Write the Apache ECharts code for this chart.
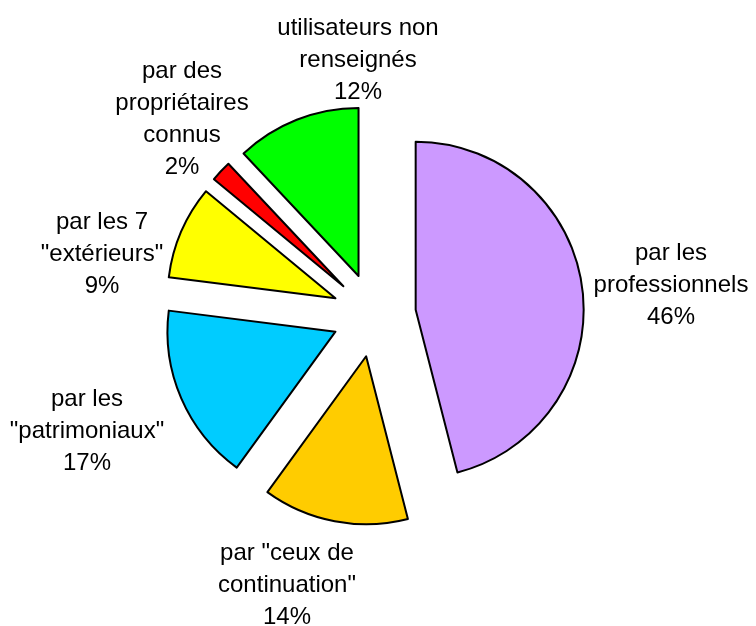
<!DOCTYPE html>
<html>
<head>
<meta charset="utf-8">
<script src="https://cdn.jsdelivr.net/npm/echarts@6/dist/echarts.min.js"></script>
<style>
  html, body { margin: 0; padding: 0; background: #fff; }
  #chart { width: 756px; height: 626px; }
</style>
</head>
<body>
<div id="chart"></div>
<script>
// slices, clockwise from 12 o'clock
var categories = [
  'par les\nprofessionnels',
  'par "ceux de\ncontinuation"',
  'par les\n"patrimoniaux"',
  'par les 7\n"extérieurs"',
  'par des\npropriétaires\nconnus',
  'utilisateurs non\nrenseignés'
];
var shares = [46, 14, 17, 9, 2, 12];
var colors = ['#CC99FF', '#FFCC00', '#00CCFF', '#FFFF00', '#FF0000', '#00FF00'];
// where each label block is centred
var labelPos = [[671, 285], [287, 585], [87, 431], [102, 254], [182, 119], [358, 60]];

var pieCenter = [374, 315];
var pieRadius = 168;

// exploded slices (selected state pushes every slice out)
var sliceData = categories.map(function(name, i) {
  return {
    name: name,
    value: shares[i],
    selected: true,
    itemStyle: { color: colors[i] }
  };
});
// same values, invisible, only carries the labels
var labelData = categories.map(function(name, i) {
  return { name: name, value: shares[i] };
});

var chart = echarts.init(document.getElementById('chart'));
chart.setOption({
  backgroundColor: '#ffffff',
  animation: false,
  series: [{
    type: 'pie',
    center: pieCenter,
    radius: pieRadius,
    startAngle: 90,
    clockwise: true,
    selectedMode: 'multiple',
    selectedOffset: 42,
    data: sliceData,
    itemStyle: { borderColor: '#000', borderWidth: 2 },
    select: { itemStyle: { borderColor: '#000', borderWidth: 2 } },
    emphasis: { disabled: true },
    label: { show: false },
    labelLine: { show: false }
  }, {
    type: 'pie',
    center: pieCenter,
    radius: pieRadius,
    startAngle: 90,
    clockwise: true,
    silent: true,
    z: 3,
    data: labelData,
    itemStyle: { color: 'rgba(0,0,0,0)', borderWidth: 0 },
    emphasis: { disabled: true },
    labelLine: { show: false },
    label: {
      show: true,
      position: 'outside',
      formatter: function(p) {
        return p.name + '\n' + p.value + '%';
      },
      fontFamily: 'Liberation Sans, Arial, sans-serif',
      fontSize: 24,
      lineHeight: 32,
      color: '#000',
      align: 'center'
    },
    labelLayout: function(params) {
      var pos = labelPos[params.dataIndex];
      return {
        x: pos[0],
        y: pos[1],
        align: 'center',
        verticalAlign: 'middle'
      };
    }
  }]
});
</script>
</body>
</html>
